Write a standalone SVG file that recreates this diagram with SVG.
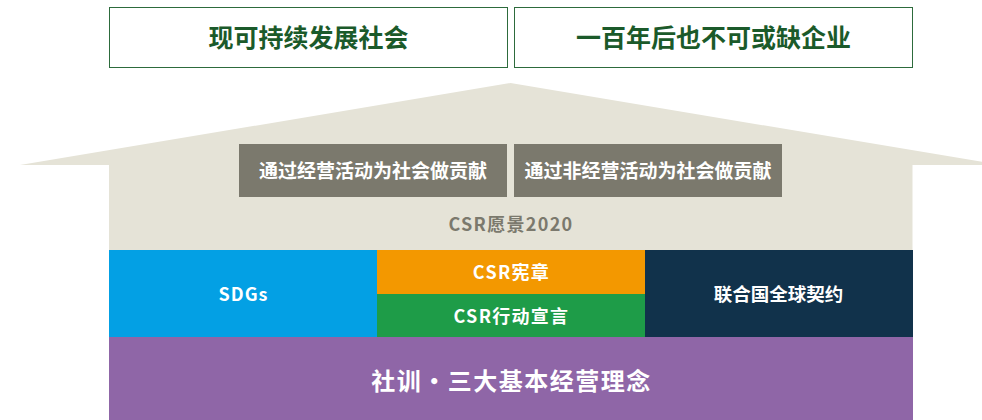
<svg xmlns="http://www.w3.org/2000/svg" width="982" height="420" viewBox="0 0 982 420">
<style>
text{font-family:"Noto Sans CJK SC","Noto Sans",sans-serif;font-weight:700;text-anchor:middle}
.top{fill:#fff;stroke:#2d6b3c;stroke-width:1}
.topt{fill:#1b5a2a;font-size:25px}
.gray{fill:#7b796d}
.wt{fill:#fff}
.ls{letter-spacing:1.3px}
</style>
<rect width="982" height="420" fill="#fff"/>
<g id="goal1"><rect class="top" x="109.5" y="7.5" width="398" height="60"/><text class="topt" x="308.5" y="47">现可持续发展社会</text></g>
<g id="goal2"><rect class="top" x="514.5" y="7.5" width="398" height="60"/><text class="topt" x="713.5" y="47">一百年后也不可或缺企业</text></g>
<g id="house"><polygon points="20,165 510.5,83 1001,165 912.5,165 912.5,250 109,250 109,165" fill="#e5e3d7"/>
<text class="ls" x="511" y="231" font-size="18" fill="#7b796d">CSR愿景2020</text></g>
<g id="biz"><rect class="gray" x="239" y="144" width="268" height="53"/><text class="wt" x="373" y="177.5" font-size="19">通过经营活动为社会做贡献</text></g>
<g id="nonbiz"><rect class="gray" x="514" y="144" width="268" height="53"/><text class="wt" x="648" y="177.5" font-size="19">通过非经营活动为社会做贡献</text></g>
<g id="sdgs"><rect x="109" y="250" width="268" height="87" fill="#03a0e4"/><text class="wt" x="243.5" y="301" font-size="18" letter-spacing="1">SDGs</text></g>
<g id="charter"><rect x="377" y="250" width="268" height="44" fill="#f39800"/><text class="wt ls" x="511.5" y="279" font-size="18">CSR宪章</text></g>
<g id="action"><rect x="377" y="294" width="268" height="43" fill="#1e9c48"/><text class="wt ls" x="511.5" y="323" font-size="18">CSR行动宣言</text></g>
<g id="ungc"><rect x="645" y="250" width="268" height="87" fill="#11324b"/><text class="wt" x="778.5" y="301" font-size="18.5">联合国全球契约</text></g>
<g id="base"><rect x="109" y="337" width="804" height="83" fill="#8f66a7"/><text class="wt" x="511.5" y="390" font-size="24" letter-spacing="1.5">社训・三大基本经营理念</text></g>
<g id="connectors"/>
</svg>
